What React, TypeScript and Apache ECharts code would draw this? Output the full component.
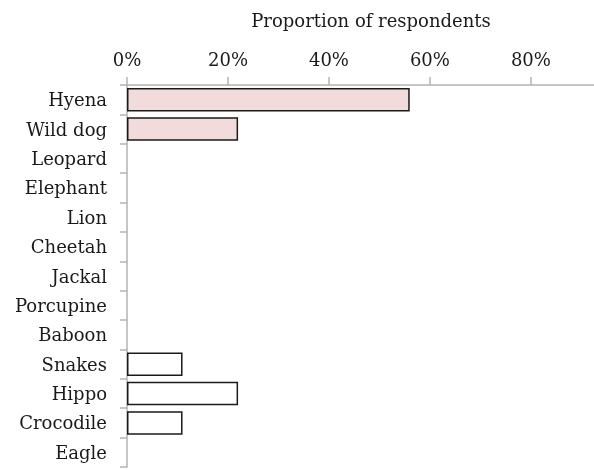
import React, { useEffect, useRef } from "react";
import * as echarts from "echarts";

const categories = [
  "Hyena", "Wild dog", "Leopard", "Elephant", "Lion", "Cheetah", "Jackal",
  "Porcupine", "Baboon", "Snakes", "Hippo", "Crocodile", "Eagle",
];
const proportions = [0.56, 0.22, 0, 0, 0, 0, 0, 0, 0, 0.11, 0.22, 0.11, 0];
const pinkCategories = ["Hyena", "Wild dog"];
const xTicks = [0, 0.2, 0.4, 0.6, 0.8];
const axisTitle = "Proportion of respondents";

const FONT = "DejaVu Serif";
const TEXT = "#1a1a1a";

export default function App() {
  const ref = useRef<HTMLDivElement>(null);
  useEffect(() => {
    if (!ref.current) return;
    const chart = echarts.init(ref.current, undefined, { renderer: "svg" });
    const data = categories.map((c, i) => {
      const v = proportions[i];
      return {
        value: v,
        itemStyle: {
          color: pinkCategories.includes(c) ? "#f2dcdb" : "#ffffff",
          borderColor: "#1a1a1a",
          borderWidth: v > 0 ? 1.5 : 0,
        },
      };
    });
    chart.setOption({
      animation: false,
      grid: { left: 127, right: 0, top: 85, bottom: 3, containLabel: false },
      graphic: [
        {
          type: "text",
          x: 371,
          y: 20,
          style: {
            text: axisTitle,
            font: `18px "${FONT}"`,
            fill: TEXT,
            textAlign: "center",
            textVerticalAlign: "middle",
          },
        },
      ],
      xAxis: {
        type: "value",
        position: "top",
        min: 0,
        max: 0.925,
        interval: 0.2,
        splitLine: { show: false },
        axisLine: { show: true, lineStyle: { color: "#b3b3b3", width: 1.5 } },
        axisTick: {
          show: true,
          length: 8,
          customValues: xTicks,
          lineStyle: { color: "#b3b3b3", width: 1.5 },
        },
        axisLabel: {
          margin: 17,
          fontFamily: FONT,
          fontSize: 18,
          color: TEXT,
          customValues: xTicks,
          formatter: (v: number) => `${Math.round(v * 100)}%`,
        },
      },
      yAxis: {
        type: "category",
        data: categories,
        inverse: true,
        axisLine: { show: true, lineStyle: { color: "#b3b3b3", width: 1.5 } },
        axisTick: { show: true, length: 7, lineStyle: { color: "#b3b3b3", width: 1.5 } },
        axisLabel: {
          margin: 20,
          fontFamily: FONT,
          fontSize: 18,
          color: TEXT,
        },
      },
      series: [
        {
          type: "bar",
          data,
          barCategoryGap: "20%",
        },
      ],
    });
    return () => chart.dispose();
  }, []);
  return (
    <div
      ref={ref}
      style={{ position: "fixed", left: 0, top: 0, width: 594, height: 470 }}
    />
  );
}
